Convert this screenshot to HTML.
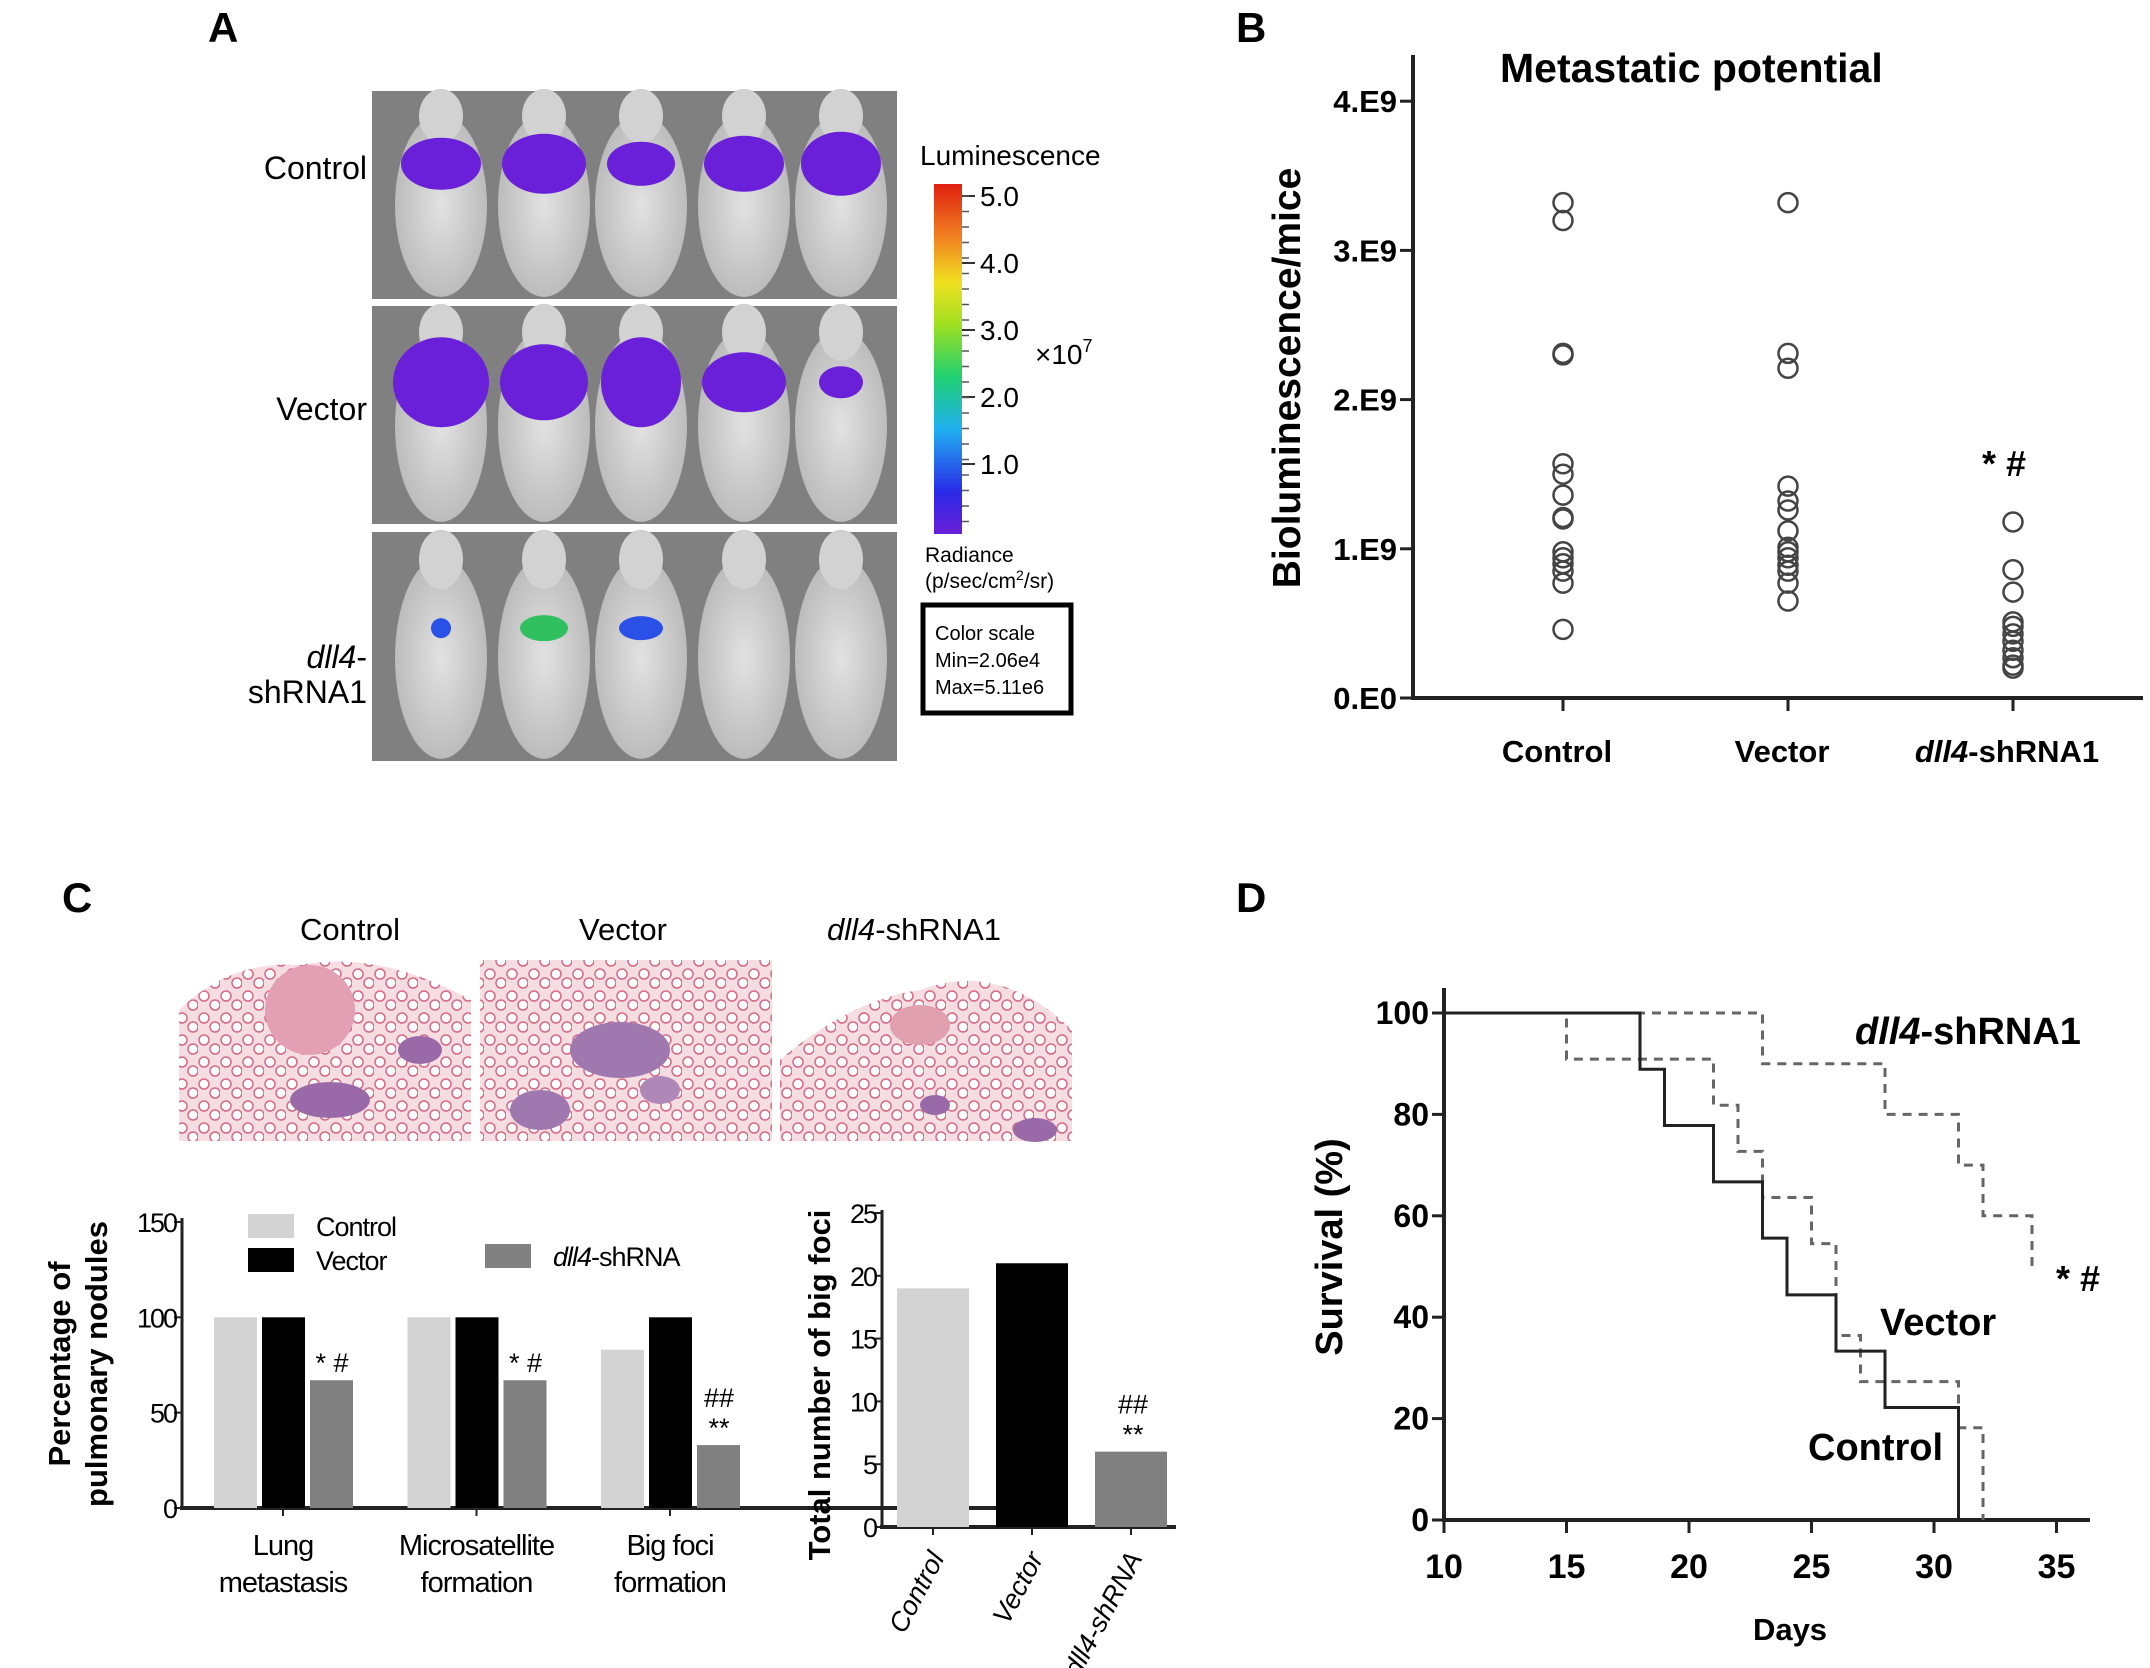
<!DOCTYPE html>
<html><head><meta charset="utf-8"><style>
html,body{margin:0;padding:0;background:#fff;}
svg{display:block;font-family:"Liberation Sans",sans-serif;}
</style></head><body>
<svg id="fig" width="2150" height="1668" viewBox="0 0 2150 1668" xmlns="http://www.w3.org/2000/svg">
<defs>
<linearGradient id="cbar" x1="0" y1="1" x2="0" y2="0">
<stop offset="0" stop-color="#6a1fd8"/><stop offset="0.12" stop-color="#2a2ae8"/><stop offset="0.3" stop-color="#20b0f0"/><stop offset="0.45" stop-color="#20d070"/><stop offset="0.6" stop-color="#a0e020"/><stop offset="0.72" stop-color="#f0e020"/><stop offset="0.85" stop-color="#f08020"/><stop offset="1" stop-color="#e02010"/>
</linearGradient>
<radialGradient id="mouse" cx="0.5" cy="0.5" r="0.5"><stop offset="0" stop-color="#e2e2e2"/><stop offset="1" stop-color="#bcbcbc"/></radialGradient>
<pattern id="lung" width="22" height="22" patternUnits="userSpaceOnUse">
<rect width="22" height="22" fill="#f6dde2"/><circle cx="6" cy="6" r="5" fill="#fff" stroke="#d66a86" stroke-width="1.5"/><circle cx="17" cy="15" r="5" fill="#fff" stroke="#d66a86" stroke-width="1.5"/>
</pattern>
</defs>

<text x="208" y="42" font-size="42" font-weight="bold">A</text>
<text x="1236" y="42" font-size="42" font-weight="bold">B</text>
<text x="62" y="912" font-size="42" font-weight="bold">C</text>
<text x="1236" y="912" font-size="42" font-weight="bold">D</text>

<g id="panelA"></g>
<text x="367" y="179" font-size="32" text-anchor="end">Control</text>
<text x="367" y="420" font-size="32" text-anchor="end">Vector</text>
<text x="367" y="668" font-size="32" text-anchor="end"><tspan font-style="italic">dll4</tspan>-</text>
<text x="367" y="703" font-size="32" text-anchor="end">shRNA1</text>
<text x="920" y="165" font-size="28">Luminescence</text>
<rect x="934" y="184" width="28" height="350" fill="url(#cbar)"/>
<g id="cbticks"></g>
<text x="1035" y="364" font-size="28">×10<tspan dy="-12" font-size="18">7</tspan></text>
<text x="925" y="562" font-size="21">Radiance</text>
<text x="925" y="588" font-size="21">(p/sec/cm<tspan dy="-8" font-size="14">2</tspan><tspan dy="8">/sr)</tspan></text>
<rect x="923" y="605" width="148" height="108" fill="#fff" stroke="#000" stroke-width="5"/>
<text x="935" y="640" font-size="20">Color scale</text>
<text x="935" y="667" font-size="20">Min=2.06e4</text>
<text x="935" y="694" font-size="20">Max=5.11e6</text>

<g id="panelB"></g>

<text x="350" y="940" font-size="31" text-anchor="middle">Control</text>
<text x="623" y="940" font-size="31" text-anchor="middle">Vector</text>
<text x="914" y="940" font-size="31" text-anchor="middle"><tspan font-style="italic">dll4</tspan>-shRNA1</text>
<g>
<path d="M179,1141 L179,1010 Q230,960 300,965 Q380,950 471,1000 L471,1141 Z" fill="url(#lung)"/>
<circle cx="310" cy="1010" r="45" fill="#e3a0b4"/><ellipse cx="330" cy="1100" rx="40" ry="18" fill="#9a6aa8"/><ellipse cx="420" cy="1050" rx="22" ry="14" fill="#9a6aa8"/></g>
<g>
<path d="M480,1141 L480,960 L772,960 L772,1141 Z" fill="url(#lung)"/>
<ellipse cx="620" cy="1050" rx="50" ry="28" fill="#a078b0"/><ellipse cx="540" cy="1110" rx="30" ry="20" fill="#a078b0"/><ellipse cx="660" cy="1090" rx="20" ry="14" fill="#b088b8"/></g>
<g>
<path d="M780,1141 L780,1060 Q850,1000 920,990 Q1000,960 1072,1030 L1072,1141 Z" fill="url(#lung)"/>
<ellipse cx="920" cy="1025" rx="30" ry="20" fill="#e0a0b0"/><ellipse cx="1035" cy="1130" rx="22" ry="12" fill="#9a6aa8"/><ellipse cx="935" cy="1105" rx="15" ry="10" fill="#9a6aa8"/></g>

<g id="panelC1"></g>
<g id="panelC2"></g>
<g id="panelD"></g>
</svg>
<script>
const NS="http://www.w3.org/2000/svg";
function mk(parent,tag,attrs,txt){const e=document.createElementNS(NS,tag);for(const k in attrs)e.setAttribute(k,attrs[k]);if(txt!==undefined)e.textContent=txt;parent.appendChild(e);return e;}

const rowsY=[[91,299],[306,524],[532,761]];
const mouseX=[441,544,641,744,841];
const blobs=[
 [[1,"#6a1fd8",40,26],[1,"#6a1fd8",42,30],[1,"#6a1fd8",34,22],[1,"#6a1fd8",40,28],[1,"#6a1fd8",40,32]],
 [[1,"#6a1fd8",48,45],[1,"#6a1fd8",44,38],[1,"#6a1fd8",40,45],[1,"#6a1fd8",42,30],[1,"#6a1fd8",22,16]],
 [[1,"#2a50e8",10,10],[1,"#30c060",24,13],[1,"#2a50e8",22,12],[0],[0]]];
const A=document.getElementById('panelA');
rowsY.forEach((r,ri)=>{
  const bg=mk(A,'rect',{x:372,y:r[0],width:525,height:r[1]-r[0],fill:'#808080'});
  
  
  mouseX.forEach((mx,mi)=>{
    const h=r[1]-r[0];
    mk(A,'ellipse',{cx:mx,cy:r[0]+h*0.55,rx:46,ry:h*0.44,fill:'url(#mouse)'});
    mk(A,'ellipse',{cx:mx,cy:r[0]+h*0.12,rx:22,ry:h*0.13,fill:'#d2d2d2'});
    const b=blobs[ri][mi];
    if(b[0]){mk(A,'ellipse',{cx:mx,cy:r[0]+h*(ri==2?0.42:0.35),rx:b[2],ry:b[3],fill:b[1]});}
  });
});
const cbt=document.getElementById('cbticks');
const cbLabels=["5.0","4.0","3.0","2.0","1.0"];
cbLabels.forEach((l,i)=>{const y=196+i*67;mk(cbt,'line',{x1:962,y1:y,x2:975,y2:y,stroke:'#333','stroke-width':2});
 const t=mk(cbt,'text',{x:980,y:y+10,'font-size':28},l);
 
 });
for(let i=0;i<22;i++){const y=196+i*15.5;mk(cbt,'line',{x1:962,y1:y,x2:969,y2:y,stroke:'#555','stroke-width':1.5});}

const bCategories=["Control","Vector","dll4-shRNA1"];
const bTicks=[0,1,2,3,4];
const bTickLabels=["0.E0","1.E9","2.E9","3.E9","4.E9"];
const bControl=[3.32,3.20,2.31,2.30,1.57,1.50,1.36,1.21,1.20,0.98,0.94,0.90,0.85,0.77,0.46];
const bVector=[3.32,2.31,2.21,1.42,1.32,1.26,1.12,1.01,0.98,0.94,0.89,0.85,0.77,0.65];
const bDll4=[1.18,0.86,0.71,0.51,0.48,0.43,0.38,0.32,0.27,0.22,0.20];
(function(){
 const g=document.getElementById('panelB');
 const y=v=>698-v*149.2, x=i=>1563+i*225;
 mk(g,'line',{x1:1413,y1:55,x2:1413,y2:700,stroke:'#222','stroke-width':4});
 mk(g,'line',{x1:1411,y1:698,x2:2143,y2:698,stroke:'#222','stroke-width':4});
 bTicks.forEach((t,i)=>{mk(g,'line',{x1:1400,y1:y(t),x2:1413,y2:y(t),stroke:'#222','stroke-width':3});
  const tl=mk(g,'text',{x:1397,y:y(t)+11,'font-size':31,'font-weight':'bold','text-anchor':'end'},bTickLabels[i]);
  
  });
 const cats=[bControl,bVector,bDll4];
 bCategories.forEach((c,i)=>{mk(g,'line',{x1:x(i),y1:698,x2:x(i),y2:711,stroke:'#222','stroke-width':3});
  const tl=mk(g,'text',{x:x(i)-6,y:762,'font-size':31,'font-weight':'bold','text-anchor':'middle'});
  
  
  if(c.startsWith('dll4')){mk(tl,'tspan',{'font-style':'italic'},'dll4');mk(tl,'tspan',{},'-shRNA1');}else tl.textContent=c;
  cats[i].forEach(v=>{const p=mk(g,'circle',{cx:x(i),cy:y(v),r:9.5,fill:'none',stroke:'#444','stroke-width':2.5});
   
   });
 });
 const t=mk(g,'text',{x:1500,y:82,'font-size':41,'font-weight':'bold'},'Metastatic potential');
 
 
 const yl=mk(g,'text',{x:0,y:0,'font-size':39,'font-weight':'bold','text-anchor':'middle',transform:'translate(1300,378) rotate(-90)'},'Bioluminescence/mice');
 
 
 const s=mk(g,'text',{x:1982,y:476,'font-size':36,'font-weight':'bold'},'* #');
 
 
})();

const c1Groups=[["Lung","metastasis"],["Microsatellite","formation"],["Big foci","formation"]];
const c1Control=[100,100,83];
const c1Vector=[100,100,100];
const c1Dll4=[67,67,33];
const c1Ticks=[0,50,100,150];
const c1Marks=[["* #"],["* #"],["##","**"]];
(function(){
 const g=document.getElementById('panelC1');
 const y=v=>1508-v*1.907;
 const colors=['#d3d3d3','#000','#808080'];
 const series=[c1Control,c1Vector,c1Dll4];
 mk(g,'line',{x1:182,y1:1218,x2:182,y2:1510,stroke:'#222','stroke-width':3});
 mk(g,'line',{x1:180,y1:1508,x2:1062,y2:1508,stroke:'#222','stroke-width':4});
 c1Ticks.forEach(t=>{mk(g,'line',{x1:174,y1:y(t),x2:182,y2:y(t),stroke:'#222','stroke-width':2});
  const tl=mk(g,'text',{x:176,y:y(t)+10,'font-size':27,'text-anchor':'end','letter-spacing':'-2'},t);
  
  });
 c1Groups.forEach((grp,gi)=>{
  const gx=214+gi*193.5;
  series.forEach((s,si)=>{const bx=gx+si*48;
   const b=mk(g,'rect',{x:bx,y:y(s[gi]),width:43,height:1508-y(s[gi]),fill:colors[si]});
   
   });
  const cx=gx+69;
  mk(g,'line',{x1:cx,y1:1508,x2:cx,y2:1516,stroke:'#222','stroke-width':2});
  grp.forEach((ln,li)=>{const t=mk(g,'text',{x:cx,y:1555+li*37,'font-size':29,'text-anchor':'middle','letter-spacing':'-1'},ln);
   
   });
  const mx=gx+96+22, top=y(c1Dll4[gi]);
  c1Marks[gi].forEach((m,mi,arr)=>{const t=mk(g,'text',{x:mx,y:top-8-(arr.length-1-mi)*30,'font-size':27,'text-anchor':'middle'},m);
   
   });
 });
 const leg=[[248,1214,'#d3d3d3','Control'],[248,1248,'#000','Vector'],[485,1244,'#808080','dll4-shRNA']];
 leg.forEach(l=>{const r=mk(g,'rect',{x:l[0],y:l[1],width:46,height:24,fill:l[2]});
  
  
  const t=mk(g,'text',{x:l[0]+68,y:l[1]+22,'font-size':27,'letter-spacing':'-1'});
  
  
  if(l[3].startsWith('dll4')){mk(t,'tspan',{'font-style':'italic'},'dll4');mk(t,'tspan',{},'-shRNA');}else t.textContent=l[3];});
 const yl=mk(g,'text',{x:0,y:0,'font-size':31,'font-weight':'bold','text-anchor':'middle',transform:'translate(70,1364) rotate(-90)'},'Percentage of');
 
 
 const yl2=mk(g,'text',{x:0,y:0,'font-size':31,'font-weight':'bold','text-anchor':'middle',transform:'translate(107,1364) rotate(-90)'},'pulmonary nodules');
 
 
})();

const c2Categories=["Control","Vector","dll4-shRNA"];
const c2Values=[19,21,6];
const c2Ticks=[0,5,10,15,20,25];
(function(){
 const g=document.getElementById('panelC2');
 const y=v=>1527-v*12.56;
 const colors=['#d3d3d3','#000','#808080'];
 mk(g,'line',{x1:882,y1:1210,x2:882,y2:1529,stroke:'#222','stroke-width':3});
 mk(g,'line',{x1:880,y1:1527,x2:1176,y2:1527,stroke:'#222','stroke-width':4});
 c2Ticks.forEach(t=>{mk(g,'line',{x1:875,y1:y(t),x2:882,y2:y(t),stroke:'#222','stroke-width':2});
  const tl=mk(g,'text',{x:876,y:y(t)+10,'font-size':27,'text-anchor':'end','letter-spacing':'-2'},t);
  
  });
 c2Categories.forEach((c,i)=>{const bx=897+i*99;
  const b=mk(g,'rect',{x:bx,y:y(c2Values[i]),width:72,height:1527-y(c2Values[i]),fill:colors[i]});
  
  
  const cx=bx+36;
  mk(g,'line',{x1:cx,y1:1527,x2:cx,y2:1535,stroke:'#222','stroke-width':2});
  const t=mk(g,'text',{x:0,y:0,'font-size':27,'font-style':'italic','text-anchor':'end',transform:`translate(${cx+12},1558) rotate(-62)`});
  
  
  if(c.startsWith('dll4')){mk(t,'tspan',{},'dll4');mk(t,'tspan',{},'-shRNA');}else t.textContent=c;
 });
 const top=y(c2Values[2]);
 const m1=mk(g,'text',{x:1133,y:top-38,'font-size':27,'text-anchor':'middle'},'##');
 
 
 const m2=mk(g,'text',{x:1133,y:top-8,'font-size':27,'text-anchor':'middle'},'**');
 
 
 const yl=mk(g,'text',{x:0,y:0,'font-size':31,'font-weight':'bold','text-anchor':'middle',transform:'translate(830,1385) rotate(-90)'},'Total number of big foci');
 
 
})();

const dTicksX=[10,15,20,25,30,35];
const dTicksY=[0,20,40,60,80,100];
const controlDays=[10,18,19,21,23,24,26,28,31];
const controlSurv=[100,88.9,77.8,66.7,55.6,44.4,33.3,22.2,0];
const vectorDays=[10,15,21,22,23,25,26,27,31,32];
const vectorSurv=[100,90.9,81.8,72.7,63.6,54.5,36.4,27.3,18.2,0];
const dllDays=[10,23,28,31,32,34];
const dllSurv=[100,90,80,70,60,50];
(function(){
 const g=document.getElementById('panelD');
 const x=d=>1444+(d-10)*24.5, y=s=>1520-s*5.07;
 mk(g,'line',{x1:1444,y1:988,x2:1444,y2:1522,stroke:'#222','stroke-width':4});
 mk(g,'line',{x1:1442,y1:1520,x2:2090,y2:1520,stroke:'#222','stroke-width':4});
 dTicksY.forEach(t=>{mk(g,'line',{x1:1432,y1:y(t),x2:1444,y2:y(t),stroke:'#222','stroke-width':3});
  const tl=mk(g,'text',{x:1429,y:y(t)+11,'font-size':32,'font-weight':'bold','text-anchor':'end'},t);
  
  });
 dTicksX.forEach(t=>{mk(g,'line',{x1:x(t),y1:1520,x2:x(t),y2:1533,stroke:'#222','stroke-width':3});
  const tl=mk(g,'text',{x:x(t),y:1578,'font-size':34,'font-weight':'bold','text-anchor':'middle'},t);
  
  });
 function step(days,surv){let d=`M${x(days[0])},${y(surv[0])}`;
  for(let i=1;i<days.length;i++){d+=` H${x(days[i])} V${y(surv[i])}`;}
  return d;}
 const pd=mk(g,'path',{d:step(dllDays,dllSurv),fill:'none',stroke:'#666','stroke-width':3,'stroke-dasharray':'9 7'});
 
 
 const pv=mk(g,'path',{d:step(vectorDays,vectorSurv),fill:'none',stroke:'#666','stroke-width':3,'stroke-dasharray':'9 7'});
 
 
 const pc=mk(g,'path',{d:step(controlDays,controlSurv),fill:'none',stroke:'#222','stroke-width':3});
 
 
 const l1=mk(g,'text',{x:1855,y:1044,'font-size':38,'font-weight':'bold'});
 
 
 mk(l1,'tspan',{'font-style':'italic'},'dll4');mk(l1,'tspan',{},'-shRNA1');
 const l2=mk(g,'text',{x:1880,y:1335,'font-size':38,'font-weight':'bold'},'Vector');
 
 
 const l3=mk(g,'text',{x:1808,y:1460,'font-size':38,'font-weight':'bold'},'Control');
 
 
 const s=mk(g,'text',{x:2056,y:1291,'font-size':36,'font-weight':'bold'},'* #');
 
 
 const yl=mk(g,'text',{x:0,y:0,'font-size':38,'font-weight':'bold','text-anchor':'middle',transform:'translate(1342,1247) rotate(-90)'},'Survival (%)');
 
 
 const xl=mk(g,'text',{x:1790,y:1640,'font-size':31,'font-weight':'bold','text-anchor':'middle'},'Days');
 
 
})();
</script>
</body></html>
